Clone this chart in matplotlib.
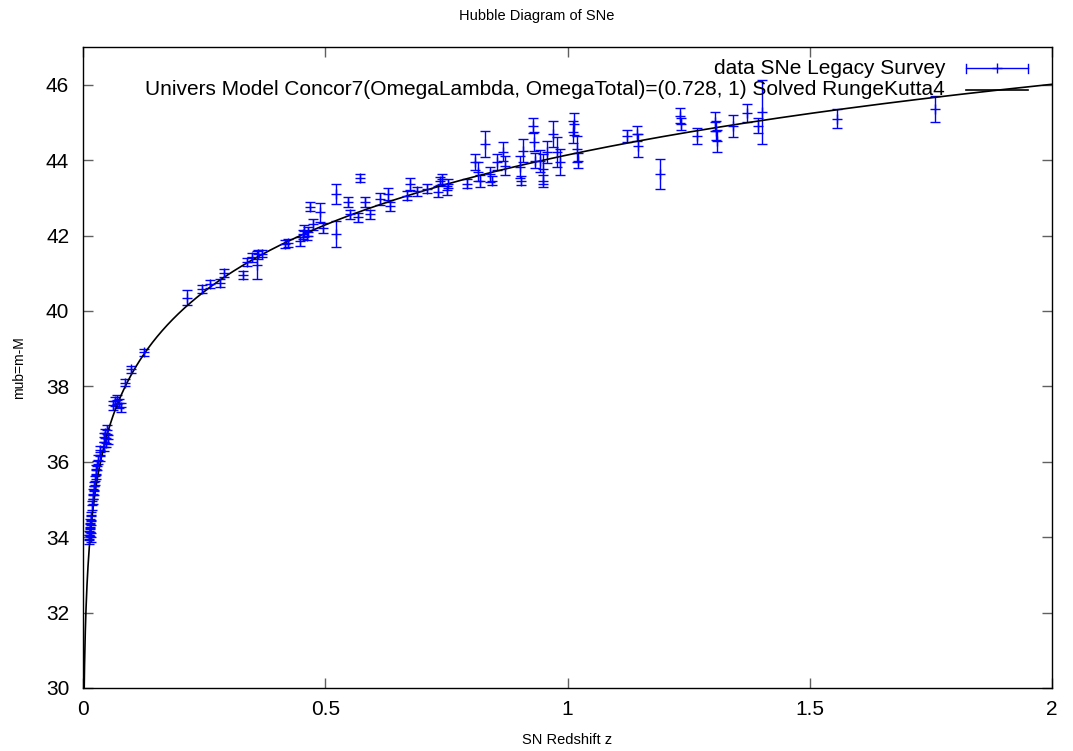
import matplotlib
matplotlib.use("Agg")
import matplotlib.pyplot as plt
import numpy as np

plt.rcParams['font.family'] = ['Liberation Sans', 'DejaVu Sans']

# SNe Legacy Survey: redshift, distance modulus, error
z_sne = [0.012, 0.013, 0.014, 0.015, 0.014, 0.016, 0.017, 0.016, 0.019, 0.020,
         0.021, 0.022, 0.023, 0.024, 0.026, 0.027, 0.029, 0.030, 0.034, 0.036,
         0.044, 0.043, 0.046, 0.050, 0.052, 0.048, 0.062, 0.066, 0.070, 0.074,
         0.078, 0.087, 0.100, 0.125,
         0.215, 0.246, 0.262, 0.283, 0.290, 0.330, 0.338, 0.349, 0.359, 0.361,
         0.369, 0.417, 0.423, 0.448, 0.454, 0.464, 0.456, 0.462, 0.469, 0.475,
         0.489, 0.495, 0.522, 0.522, 0.547, 0.551, 0.568, 0.572, 0.582, 0.592,
         0.613, 0.630, 0.634, 0.668, 0.675, 0.690, 0.710, 0.733, 0.740, 0.751,
         0.753, 0.737, 0.793, 0.809, 0.815, 0.819, 0.830, 0.840, 0.845, 0.855,
         0.867, 0.870, 0.902, 0.905, 0.908, 0.929, 0.930, 0.932, 0.943, 0.949,
         0.950, 0.958, 0.970, 0.978, 0.985, 1.011, 1.013, 1.020, 1.022, 1.123,
         1.143, 1.145, 1.190, 1.232, 1.235, 1.267, 1.304, 1.306, 1.308, 1.342,
         1.370, 1.393, 1.401, 1.556, 1.758]
mu_sne = [33.95, 34.05, 34.15, 34.25, 34.35, 34.45, 34.55, 34.00, 34.85, 35.00,
          35.15, 35.25, 35.35, 35.50, 35.65, 35.80, 35.90, 36.05, 36.15, 36.30,
          36.40, 36.65, 36.75, 36.85, 36.60, 36.50, 37.50, 37.60, 37.65, 37.55,
          37.45, 38.10, 38.45, 38.90,
          40.35, 40.58, 40.72, 40.74, 41.00, 40.95, 41.30, 41.42, 41.22, 41.50,
          41.52, 41.77, 41.80, 41.85, 42.04, 42.10, 42.12, 41.99, 42.76, 42.30,
          42.62, 42.20, 43.10, 42.04, 42.89, 42.57, 42.49, 43.53, 42.89, 42.57,
          42.97, 43.10, 42.78, 43.05, 43.37, 43.18, 43.24, 43.16, 43.50, 43.20,
          43.37, 43.45, 43.37, 43.95, 43.69, 43.45, 44.43, 43.63, 43.45, 43.95,
          44.22, 43.85, 43.82, 43.45, 44.25, 44.91, 44.49, 43.98, 43.98, 43.77,
          43.45, 44.22, 44.70, 44.22, 43.95, 44.75, 44.96, 44.30, 43.98, 44.64,
          44.70, 44.38, 43.63, 45.18, 44.96, 44.64, 45.02, 44.78, 44.51, 44.91,
          45.25, 44.91, 45.28, 45.10, 45.36]
err_sne = [0.12, 0.12, 0.13, 0.12, 0.12, 0.13, 0.12, 0.12, 0.12, 0.12,
           0.13, 0.12, 0.12, 0.12, 0.12, 0.12, 0.12, 0.12, 0.12, 0.12,
           0.12, 0.12, 0.12, 0.12, 0.12, 0.12, 0.12, 0.12, 0.12, 0.12,
           0.12, 0.10, 0.10, 0.10,
           0.20, 0.10, 0.10, 0.10, 0.10, 0.10, 0.10, 0.12, 0.38, 0.12,
           0.10, 0.10, 0.10, 0.12, 0.12, 0.12, 0.15, 0.12, 0.12, 0.15,
           0.25, 0.12, 0.27, 0.35, 0.12, 0.12, 0.12, 0.10, 0.12, 0.12,
           0.15, 0.15, 0.12, 0.12, 0.15, 0.12, 0.12, 0.15, 0.12, 0.12,
           0.12, 0.10, 0.12, 0.20, 0.25, 0.15, 0.35, 0.20, 0.12, 0.20,
           0.25, 0.25, 0.30, 0.12, 0.30, 0.20, 0.25, 0.20, 0.30, 0.40,
           0.15, 0.30, 0.35, 0.40, 0.35, 0.30, 0.30, 0.35, 0.20, 0.15,
           0.20, 0.30, 0.40, 0.20, 0.15, 0.20, 0.25, 0.25, 0.30, 0.30,
           0.25, 0.20, 0.85, 0.25, 0.35]

# concordance model parameters
omega_lambda = 0.728
omega_total = 1.0
h0 = 70.0
c_light = 299792.458


def distance_modulus(z):
    # flat universe, comoving distance by RK4 on dD/dz = c/H(z)
    om = omega_total - omega_lambda
    hz = lambda x: c_light / (h0 * np.sqrt(om * (1 + x) ** 3 + omega_lambda))
    dc = np.zeros_like(z)
    for i in range(1, len(z)):
        h = z[i] - z[i - 1]
        k1 = hz(z[i - 1])
        k2 = hz(z[i - 1] + h / 2)
        k4 = hz(z[i])
        dc[i] = dc[i - 1] + h / 6 * (k1 + 4 * k2 + k4)
    dl = (1 + z) * dc
    return 5 * np.log10(dl[1:] * 1e6 / 10.0), z[1:]


def main():
    fig = plt.figure(figsize=(10.73, 7.51), dpi=100)
    ax = fig.add_axes([0.0774, 0.0839, 0.9030, 0.8535])

    ax.errorbar(z_sne, mu_sne, yerr=err_sne, fmt='+', color='#0000ff',
                ms=7, mew=1, elinewidth=1, capsize=3.5, capthick=1)

    zz = np.linspace(0, 2.05, 4000)
    mu_model, zm = distance_modulus(zz)
    ax.plot(zm, mu_model, color='black', lw=1.2)

    ax.set_xlim(0, 2)
    ax.set_ylim(30, 47)
    ax.set_xticks([0, 0.5, 1, 1.5, 2])
    ax.set_xticklabels(['0', '0.5', '1', '1.5', '2'])
    ax.set_yticks(np.arange(30, 47, 2))
    ax.tick_params(direction='in', length=7, width=1, color='#606060',
                   top=True, right=True, labelsize=15)
    ax.tick_params(axis='y', pad=10)
    ax.tick_params(axis='x', pad=9)
    for s in ax.spines.values():
        s.set_linewidth(1)

    ax.set_xlabel('SN Redshift z', fontsize=10.5, labelpad=10)
    ax.set_ylabel('mub=m-M', fontsize=10, labelpad=14)
    fig.text(0.5, 0.979, 'Hubble Diagram of SNe', ha='center', va='center',
             fontsize=10.5)

    # gnuplot style key, top right
    tr = ax.transAxes
    ax.text(0.8896, 0.967, 'data SNe Legacy Survey', transform=tr,
            ha='right', va='center', fontsize=15)
    ax.text(0.8896, 0.933,
            'Univers Model Concor7(OmegaLambda, OmegaTotal)=(0.728, 1) Solved RungeKutta4',
            transform=tr, ha='right', va='center', fontsize=15)
    ax.plot([0.911, 0.975], [0.967, 0.967], color='#0000ff', lw=1,
            transform=tr, clip_on=False)
    ax.plot([0.943], [0.967], marker='+', ms=7, color='#0000ff',
            transform=tr, clip_on=False)
    for xe in (0.911, 0.975):
        ax.plot([xe, xe], [0.960, 0.974], color='#0000ff', lw=1,
                transform=tr, clip_on=False)
    ax.plot([0.911, 0.975], [0.933, 0.933], color='black', lw=1.2,
            transform=tr, clip_on=False)

    fig.savefig('out.png', dpi=100)


if __name__ == '__main__':
    main()
